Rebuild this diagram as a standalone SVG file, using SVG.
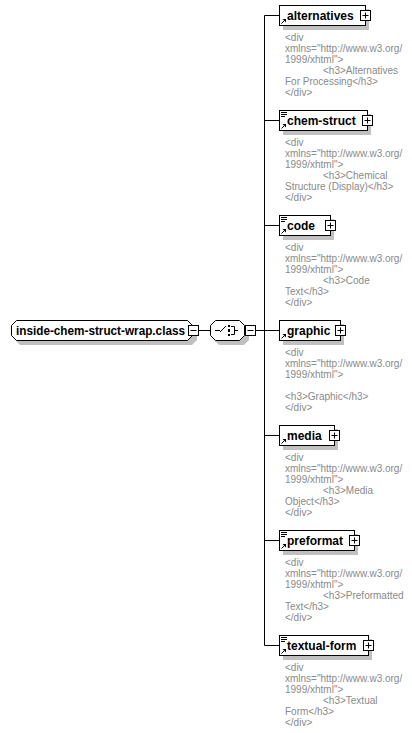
<svg xmlns="http://www.w3.org/2000/svg" width="412" height="733" viewBox="0 0 412 733">
<style>
.bg{fill:#ffffff}
.box{fill:#ffffff;stroke:#000000;stroke-width:1}
.shadow{fill:#c0c0c0;stroke:none}
.lbl{font-family:"Liberation Sans",Arial,sans-serif;font-weight:bold;font-size:12px;fill:#000000}
.doc{font-family:"Liberation Sans",Arial,sans-serif;font-size:10px;fill:#8a8a8a}
.conn{stroke:#000000;stroke-width:1;fill:none}
.pm{fill:#ffffff;stroke:#000000;stroke-width:1}
.pml{stroke:#000000;stroke-width:1}
</style>
<defs>
<g id="plus">
<rect class="pm" x="0.5" y="0.5" width="10" height="10"/>
<line class="pml" x1="2.5" y1="5.5" x2="8.5" y2="5.5"/>
<line class="pml" x1="5.5" y1="2.5" x2="5.5" y2="8.5"/>
</g>
<g id="minus">
<rect class="pm" x="0.5" y="0.5" width="10" height="10"/>
<line class="pml" x1="2.5" y1="5.5" x2="8.5" y2="5.5"/>
</g>
<g id="mixed">
<line class="pml" x1="0" y1="0.5" x2="6" y2="0.5"/>
<line class="pml" x1="0" y1="2.5" x2="6" y2="2.5"/>
<line class="pml" x1="0" y1="4.5" x2="4" y2="4.5"/>
</g>
<g id="ref">
<line class="pml" x1="0.5" y1="4.5" x2="3" y2="2"/>
<path d="M1.5,0 L5,0 L5,3.5 Z" fill="#000000"/>
</g>
</defs>
<rect class="bg" x="0" y="0" width="412" height="733"/>

<g id="connectors">
<line class="conn" x1="199" y1="330.5" x2="210" y2="330.5"/>
<line class="conn" x1="255" y1="330.5" x2="264.5" y2="330.5"/>
<line class="conn" x1="264.5" y1="15.5" x2="264.5" y2="645.5"/>
<line class="conn" x1="264.5" y1="15.5" x2="279" y2="15.5"/>
<line class="conn" x1="264.5" y1="120.5" x2="279" y2="120.5"/>
<line class="conn" x1="264.5" y1="225.5" x2="279" y2="225.5"/>
<line class="conn" x1="264.5" y1="330.5" x2="279" y2="330.5"/>
<line class="conn" x1="264.5" y1="435.5" x2="279" y2="435.5"/>
<line class="conn" x1="264.5" y1="540.5" x2="279" y2="540.5"/>
<line class="conn" x1="264.5" y1="645.5" x2="279" y2="645.5"/>
</g>

<g id="inside-chem-struct-wrap.class">
<path class="shadow" d="M20,324 L192,324 L197,329 L197,340 L192,345 L20,345 L15,340 L15,329 Z"/>
<path class="box" d="M16.5,320.5 L187.5,320.5 L192.5,325.5 L192.5,335.5 L187.5,340.5 L16.5,340.5 L11.5,335.5 L11.5,325.5 Z"/>
<text class="lbl" x="16" y="335" textLength="169" lengthAdjust="spacingAndGlyphs">inside-chem-struct-wrap.class</text>
<use href="#minus" x="188" y="325"/>
</g>

<g id="sequence">
<path class="shadow" d="M219,324 L244,324 L249,329 L249,340 L244,345 L219,345 L214,340 L214,329 Z"/>
<path class="box" d="M215.5,320.5 L239.5,320.5 L244.5,325.5 L244.5,335.5 L239.5,340.5 L215.5,340.5 L210.5,335.5 L210.5,325.5 Z"/>
<line class="pml" x1="215" y1="330.5" x2="220" y2="330.5"/>
<line class="pml" x1="220" y1="332" x2="226" y2="326"/>
<rect x="228" y="325" width="2" height="2" fill="#000"/>
<rect x="228" y="329" width="2" height="3" fill="#000"/>
<rect x="228" y="334" width="2" height="2" fill="#000"/>
<path class="conn" d="M231,326.5 L234.5,326.5 L234.5,334.5 L231,334.5 M234.5,330.5 L238,330.5"/>
<use href="#minus" x="245" y="325"/>
</g>

<g id="alternatives">
<rect class="shadow" x="283" y="9" width="86" height="21"/>
<rect class="box" x="279.5" y="5.5" width="86" height="20"/>
<use href="#ref" x="281" y="19"/>
<text class="lbl" x="287" y="20">alternatives</text>
<use href="#plus" x="360" y="10"/>
<text class="doc"><tspan x="285" y="41">&lt;div</tspan><tspan x="285" y="52">xmlns="http://www.w3.org/</tspan><tspan x="285" y="63">1999/xhtml"&gt;</tspan><tspan x="323" y="74">&lt;h3&gt;Alternatives</tspan><tspan x="285" y="85">For Processing&lt;/h3&gt;</tspan><tspan x="285" y="96">&lt;/div&gt;</tspan></text>
</g>

<g id="chem-struct">
<rect class="shadow" x="283" y="114" width="88" height="21"/>
<rect class="box" x="279.5" y="110.5" width="88" height="20"/>
<use href="#mixed" x="281" y="112"/>
<use href="#ref" x="281" y="124"/>
<text class="lbl" x="287" y="125">chem-struct</text>
<use href="#plus" x="362" y="115"/>
<text class="doc"><tspan x="285" y="146">&lt;div</tspan><tspan x="285" y="157">xmlns="http://www.w3.org/</tspan><tspan x="285" y="168">1999/xhtml"&gt;</tspan><tspan x="323" y="179">&lt;h3&gt;Chemical</tspan><tspan x="285" y="190">Structure (Display)&lt;/h3&gt;</tspan><tspan x="285" y="201">&lt;/div&gt;</tspan></text>
</g>

<g id="code">
<rect class="shadow" x="283" y="219" width="51" height="21"/>
<rect class="box" x="279.5" y="215.5" width="51" height="20"/>
<use href="#mixed" x="281" y="217"/>
<use href="#ref" x="281" y="229"/>
<text class="lbl" x="287" y="230">code</text>
<use href="#plus" x="325" y="220"/>
<text class="doc"><tspan x="285" y="251">&lt;div</tspan><tspan x="285" y="262">xmlns="http://www.w3.org/</tspan><tspan x="285" y="273">1999/xhtml"&gt;</tspan><tspan x="323" y="284">&lt;h3&gt;Code</tspan><tspan x="285" y="295">Text&lt;/h3&gt;</tspan><tspan x="285" y="306">&lt;/div&gt;</tspan></text>
</g>

<g id="graphic">
<rect class="shadow" x="283" y="324" width="61" height="21"/>
<rect class="box" x="279.5" y="320.5" width="61" height="20"/>
<use href="#ref" x="281" y="334"/>
<text class="lbl" x="287" y="335">graphic</text>
<use href="#plus" x="335" y="325"/>
<text class="doc"><tspan x="285" y="356">&lt;div</tspan><tspan x="285" y="367">xmlns="http://www.w3.org/</tspan><tspan x="285" y="378">1999/xhtml"&gt;</tspan><tspan x="285" y="400">&lt;h3&gt;Graphic&lt;/h3&gt;</tspan><tspan x="285" y="411">&lt;/div&gt;</tspan></text>
</g>

<g id="media">
<rect class="shadow" x="283" y="429" width="55" height="21"/>
<rect class="box" x="279.5" y="425.5" width="55" height="20"/>
<use href="#ref" x="281" y="439"/>
<text class="lbl" x="287" y="440">media</text>
<use href="#plus" x="329" y="430"/>
<text class="doc"><tspan x="285" y="461">&lt;div</tspan><tspan x="285" y="472">xmlns="http://www.w3.org/</tspan><tspan x="285" y="483">1999/xhtml"&gt;</tspan><tspan x="323" y="494">&lt;h3&gt;Media</tspan><tspan x="285" y="505">Object&lt;/h3&gt;</tspan><tspan x="285" y="516">&lt;/div&gt;</tspan></text>
</g>

<g id="preformat">
<rect class="shadow" x="283" y="534" width="75" height="21"/>
<rect class="box" x="279.5" y="530.5" width="75" height="20"/>
<use href="#mixed" x="281" y="532"/>
<use href="#ref" x="281" y="544"/>
<text class="lbl" x="287" y="545">preformat</text>
<use href="#plus" x="349" y="535"/>
<text class="doc"><tspan x="285" y="566">&lt;div</tspan><tspan x="285" y="577">xmlns="http://www.w3.org/</tspan><tspan x="285" y="588">1999/xhtml"&gt;</tspan><tspan x="323" y="599">&lt;h3&gt;Preformatted</tspan><tspan x="285" y="610">Text&lt;/h3&gt;</tspan><tspan x="285" y="621">&lt;/div&gt;</tspan></text>
</g>

<g id="textual-form">
<rect class="shadow" x="283" y="639" width="89" height="21"/>
<rect class="box" x="279.5" y="635.5" width="89" height="20"/>
<use href="#mixed" x="281" y="637"/>
<use href="#ref" x="281" y="649"/>
<text class="lbl" x="287" y="650">textual-form</text>
<use href="#plus" x="363" y="640"/>
<text class="doc"><tspan x="285" y="671">&lt;div</tspan><tspan x="285" y="682">xmlns="http://www.w3.org/</tspan><tspan x="285" y="693">1999/xhtml"&gt;</tspan><tspan x="323" y="704">&lt;h3&gt;Textual</tspan><tspan x="285" y="715">Form&lt;/h3&gt;</tspan><tspan x="285" y="726">&lt;/div&gt;</tspan></text>
</g>
</svg>
